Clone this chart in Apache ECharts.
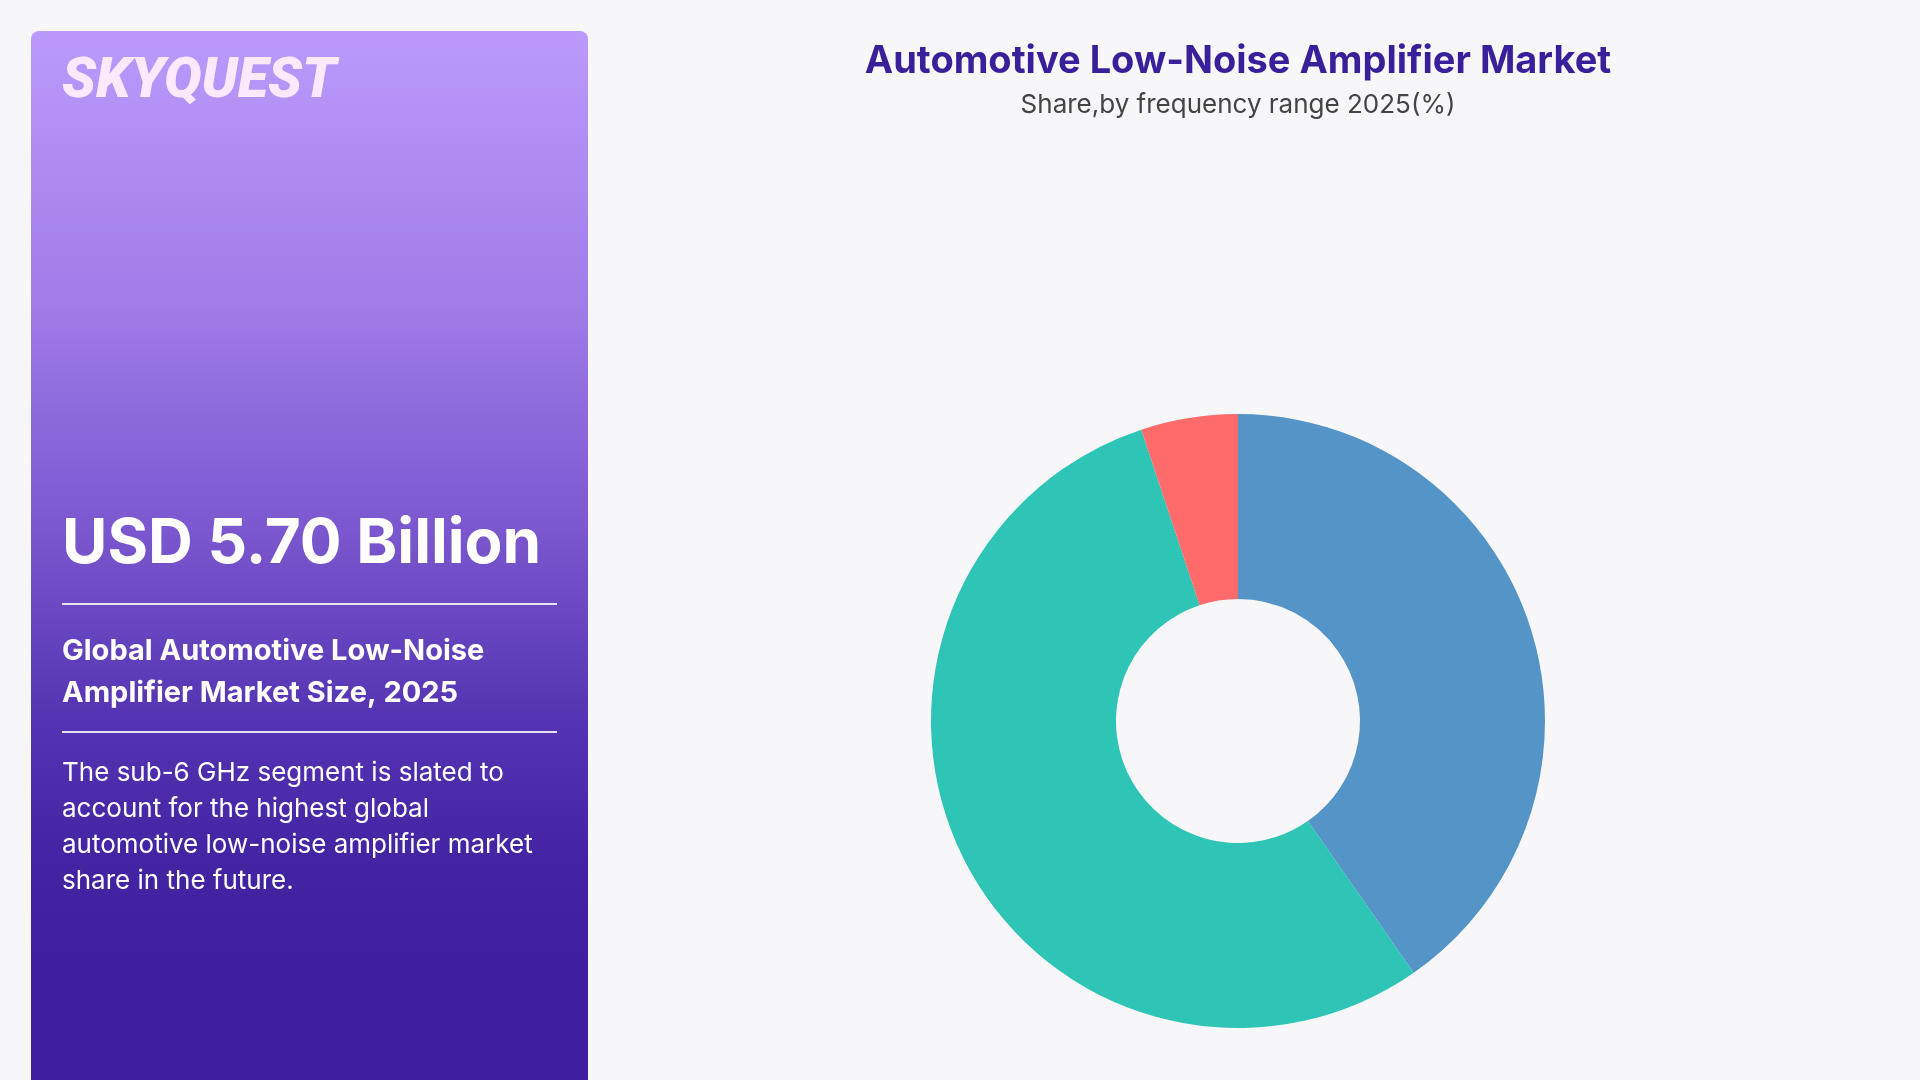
<!DOCTYPE html>
<html>
<head>
<meta charset="utf-8">
<script src="https://cdn.jsdelivr.net/npm/echarts@6/dist/echarts.min.js"></script>
<style>
  html, body { margin: 0; padding: 0; background: #f7f7f9; }
  #chart { width: 1920px; height: 1080px; }
</style>
</head>
<body>
<div id="chart"></div>
<script>
// ---- Data ----
const segments = ['mmWave (24–81 GHz)', 'Sub-6 GHz', 'Others'];
const shares = [40.3, 54.6, 5.1];
const segmentColors = ['#5594c6', '#2ec4b6', '#ff6b6b'];

const chartTitle = 'Automotive Low-Noise Amplifier Market';
const chartSubtitle = 'Share,by frequency range 2025(%)';
const brand = 'SKYQUEST';
const headlineValue = 'USD 5.70 Billion';
const headlineLabel = ['Global Automotive Low-Noise', 'Amplifier Market Size, 2025'];
const summaryLines = [
  'The sub-6 GHz segment is slated to',
  'account for the highest global',
  'automotive low-noise amplifier market',
  'share in the future.'
];

// ---- Chart ----
const chart = echarts.init(document.getElementById('chart'), null, { renderer: 'canvas' });
const FONT = 'Inter, "Open Sans", sans-serif';

const graphics = [
  {
    type: 'rect',
    shape: { x: 31, y: 31, width: 557, height: 1100, r: 8 },
    style: {
      fill: new echarts.graphic.LinearGradient(0, 0, 0, 1, [
        { offset: 0, color: '#bb9afc' },
        { offset: 0.25, color: '#9f7ce8' },
        { offset: 0.45, color: '#7b58cf' },
        { offset: 0.62, color: '#5535b3' },
        { offset: 0.75, color: '#4324a3' },
        { offset: 0.85, color: '#3e1f9e' },
        { offset: 1, color: '#3e1f9e' }
      ])
    },
    silent: true
  },
  {
    type: 'text', x: 62, y: 83,
    style: { text: brand, fill: '#fde9ff', font: 'italic 900 56px Roboto, Inter, sans-serif', textAlign: 'left', textVerticalAlign: 'middle' },
    silent: true
  },
  {
    type: 'text', x: 62, y: 544,
    style: { text: headlineValue, fill: '#ffffff', font: '700 62px ' + FONT, textAlign: 'left', textVerticalAlign: 'middle' },
    silent: true
  },
  {
    type: 'line', shape: { x1: 62, y1: 604, x2: 557, y2: 604 },
    style: { stroke: 'rgba(255,255,255,0.85)', lineWidth: 2 }, silent: true
  },
  {
    type: 'line', shape: { x1: 62, y1: 732, x2: 557, y2: 732 },
    style: { stroke: 'rgba(255,255,255,0.85)', lineWidth: 2 }, silent: true
  }
];
headlineLabel.forEach((t, i) => {
  graphics.push({
    type: 'text', x: 62, y: 651 + i * 42,
    style: { text: t, fill: '#ffffff', font: '700 29px ' + FONT, textAlign: 'left', textVerticalAlign: 'middle' },
    silent: true
  });
});
summaryLines.forEach((t, i) => {
  graphics.push({
    type: 'text', x: 62, y: 773 + i * 36,
    style: { text: t, fill: '#ffffff', font: '400 26px ' + FONT, textAlign: 'left', textVerticalAlign: 'middle' },
    silent: true
  });
});

chart.setOption({
  backgroundColor: '#f7f7f9',
  animation: false,
  title: {
    text: chartTitle,
    subtext: chartSubtitle,
    left: 1238,
    top: 40,
    textAlign: 'center',
    padding: 0,
    itemGap: 6,
    textStyle: { fontFamily: FONT, fontWeight: 700, fontSize: 38, lineHeight: 44, color: '#3a1f9a' },
    subtextStyle: { fontFamily: FONT, fontWeight: 400, fontSize: 26, lineHeight: 30, color: '#444444' }
  },
  graphic: graphics,
  series: [{
    type: 'pie',
    center: [1238, 721],
    radius: [122, 307],
    startAngle: 90,
    clockwise: true,
    label: { show: false },
    labelLine: { show: false },
    emphasis: { disabled: true },
    itemStyle: { borderWidth: 0 },
    data: segments.map((name, i) => ({ name, value: shares[i], itemStyle: { color: segmentColors[i] } }))
  }]
});
</script>
</body>
</html>
